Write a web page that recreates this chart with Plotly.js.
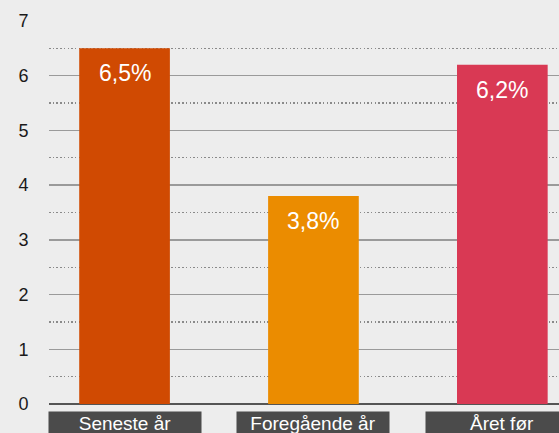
<!DOCTYPE html>
<html><head><meta charset="utf-8">
<script src="https://cdn.plot.ly/plotly-3.0.1.min.js"></script>
<style>html,body{margin:0;padding:0;background:#ededed;}</style>
</head><body>
<div id="chart" style="width:559px;height:433px;"></div>
<script>
var categories = ["Seneste år", "Foregående år", "Året før"];
var values = [6.5, 3.8, 6.2];
var valueLabels = ["6,5%", "3,8%", "6,2%"];
var barColors = ["#d04a02", "#eb8c00", "#d93954"];
var yTicks = [0, 1, 2, 3, 4, 5, 6, 7];

var idx = categories.map(function(_, i){ return i; });

var traces = [{
  type: "bar", x: idx, y: values,
  marker: {color: barColors, line: {width: 0}},
  hoverinfo: "skip", showlegend: false
}, {
  type: "scatter", x: [idx[0]], y: [0], yaxis: "y2", mode: "none",
  hoverinfo: "skip", showlegend: false
}];

var annotations = [];
idx.forEach(function(i){
  annotations.push({
    x: i, y: values[i], xref: "x", yref: "y", yanchor: "top", yshift: -10,
    text: valueLabels[i], showarrow: false,
    font: {family: "Liberation Sans, Arial, sans-serif", size: 23, color: "#ffffff"}
  });
  annotations.push({
    x: i, y: 0, xref: "x", yref: "paper", yanchor: "top", yshift: -7,
    text: categories[i], showarrow: false, width: 152, height: 22,
    bgcolor: "#4b4b4b", borderpad: 0, valign: "middle",
    font: {family: "Liberation Sans, Arial, sans-serif", size: 19, color: "#ffffff"}
  });
});

var layout = {
  width: 559, height: 433,
  margin: {l: 49, r: 0, t: 21, b: 29, pad: 0},
  paper_bgcolor: "#ededed", plot_bgcolor: "#ededed",
  bargap: 0.52,
  font: {family: "Liberation Sans, Arial, sans-serif", size: 18, color: "#1a1a1a"},
  xaxis: {
    range: [-0.4, 2.3], showticklabels: false, showgrid: false, zeroline: false,
    showline: false, ticks: "", fixedrange: true
  },
  yaxis: {
    range: [0, 7], tickvals: yTicks, ticktext: yTicks.map(String),
    showgrid: true, gridcolor: "#9a9a9a", gridwidth: 1.3,
    zeroline: true, zerolinecolor: "#555555", zerolinewidth: 2.2,
    showline: false, ticks: "outside", ticklen: 0, ticklabelstandoff: 16,
    tickfont: {size: 18, color: "#1a1a1a"}
  },
  yaxis2: {
    overlaying: "y", range: [0, 7], tick0: 0.5, dtick: 1,
    showgrid: true, gridcolor: "#8a8a8a", gridwidth: 1.3, griddash: "1.5px,2.2px",
    showticklabels: false, zeroline: false, showline: false, ticks: ""
  },
  annotations: annotations
};

Plotly.newPlot("chart", traces, layout, {displayModeBar: false, staticPlot: true});
</script>
</body></html>
